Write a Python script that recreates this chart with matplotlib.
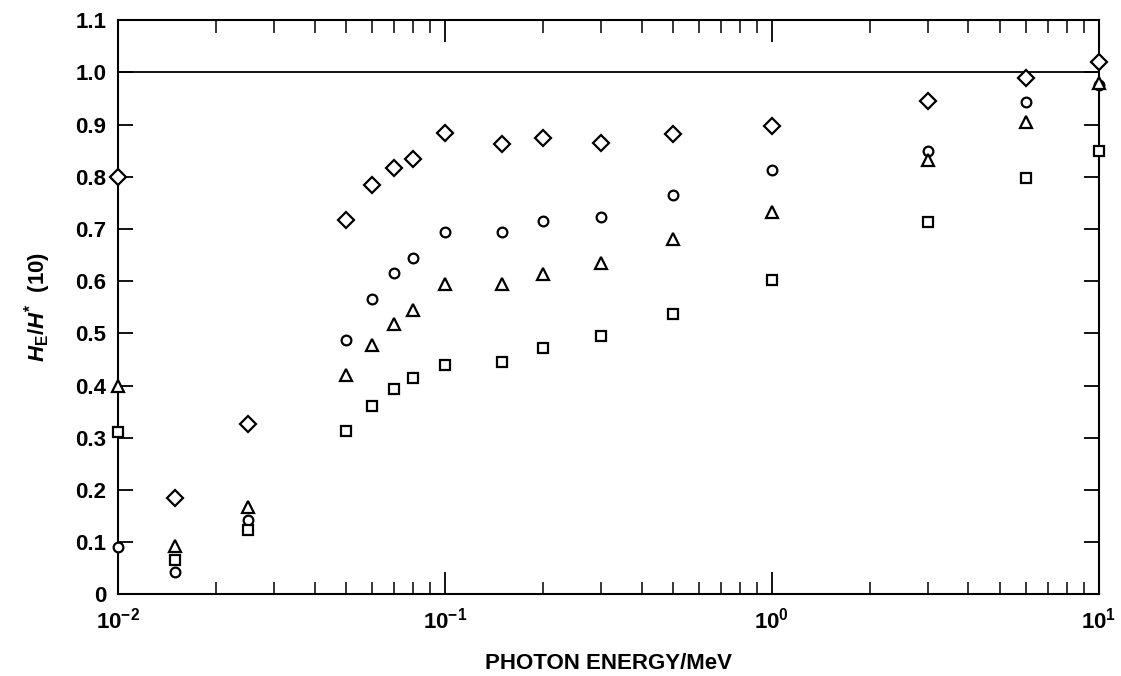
# Ratio of effective dose equivalent to ambient dose equivalent vs photon energy
import matplotlib
matplotlib.use("Agg")
import matplotlib.pyplot as plt
from matplotlib.ticker import LogLocator, FixedFormatter, FixedLocator

plt.rcParams['font.family'] = 'Liberation Sans'
plt.rcParams['font.weight'] = 'bold'
plt.rcParams['mathtext.fontset'] = 'custom'
plt.rcParams['mathtext.rm'] = 'Liberation Sans:bold'
plt.rcParams['mathtext.it'] = 'Liberation Sans:italic:bold'
plt.rcParams['mathtext.bf'] = 'Liberation Sans:bold'

energy = [0.01, 0.015, 0.025, 0.05, 0.06, 0.07, 0.08, 0.1, 0.15, 0.2,
          0.3, 0.5, 1.0, 3.0, 6.0, 10.0]

diamond = [0.80, 0.184, 0.326, 0.718, 0.785, 0.816, 0.835, 0.884, 0.863, 0.875,
           0.864, 0.882, 0.898, 0.945, 0.99, 1.02]
circle = [0.09, 0.042, 0.143, 0.488, 0.566, 0.615, 0.645, 0.695, 0.695, 0.715,
          0.723, 0.765, 0.813, 0.85, 0.944, 0.975]
triangle = [0.40, 0.093, 0.168, 0.421, 0.478, 0.518, 0.545, 0.594, 0.595, 0.614,
            0.634, 0.68, 0.733, 0.833, 0.905, 0.98]
square = [0.31, 0.066, 0.124, 0.313, 0.36, 0.393, 0.414, 0.44, 0.446, 0.471,
          0.495, 0.537, 0.602, 0.714, 0.797, 0.85]

fig = plt.figure(figsize=(11.21, 6.76), dpi=100)
ax = fig.add_axes([0.105, 0.121, 0.875, 0.849])

style = dict(linestyle='none', markerfacecolor='white', markeredgecolor='black',
             markeredgewidth=1.6, clip_on=False, zorder=3)
ax.plot(energy, diamond, marker='D', markersize=8.5, **style)
ax.plot(energy, circle, marker='o', markersize=7, **style)
ax.plot(energy, triangle, marker='^', markersize=8, **style)
ax.plot(energy, square, marker='s', markersize=7.5, **style)

# reference line at unity
ax.axhline(1.0, color='black', linewidth=1.3, zorder=2)

ax.set_xscale('log')
ax.set_xlim(0.01, 10)
ax.set_ylim(0, 1.1)

ax.xaxis.set_major_locator(FixedLocator([0.01, 0.1, 1, 10]))
ax.xaxis.set_major_formatter(FixedFormatter([r'$10^{-2}$', r'$10^{-1}$', r'$10^{0}$', r'$10^{1}$']))
ax.xaxis.set_minor_locator(LogLocator(base=10, subs=range(2, 10)))
ax.xaxis.set_minor_formatter(FixedFormatter([]))

yticks = [i / 10 for i in range(12)]
ax.yaxis.set_major_locator(FixedLocator(yticks))
ax.set_yticklabels(['0'] + ['%.1f' % v for v in yticks[1:]])

ax.tick_params(axis='both', which='major', direction='in', length=11, width=1.3,
               labelsize=16, top=True, right=True)
ax.tick_params(axis='x', which='major', length=16, pad=10)
ax.tick_params(axis='x', which='minor', direction='in', length=9, width=1.1,
               top=True, bottom=True)
ax.tick_params(axis='y', which='major', pad=8)

for s in ax.spines.values():
    s.set_linewidth(1.5)

ax.set_xlabel('PHOTON ENERGY/MeV', fontsize=16, fontweight='bold', labelpad=14)
ax.set_ylabel(r'$H_{\mathrm{E}}/H^{*}$  (10)', fontsize=16, fontweight='bold', labelpad=16)

fig.savefig('out.png', dpi=100, facecolor='white')
